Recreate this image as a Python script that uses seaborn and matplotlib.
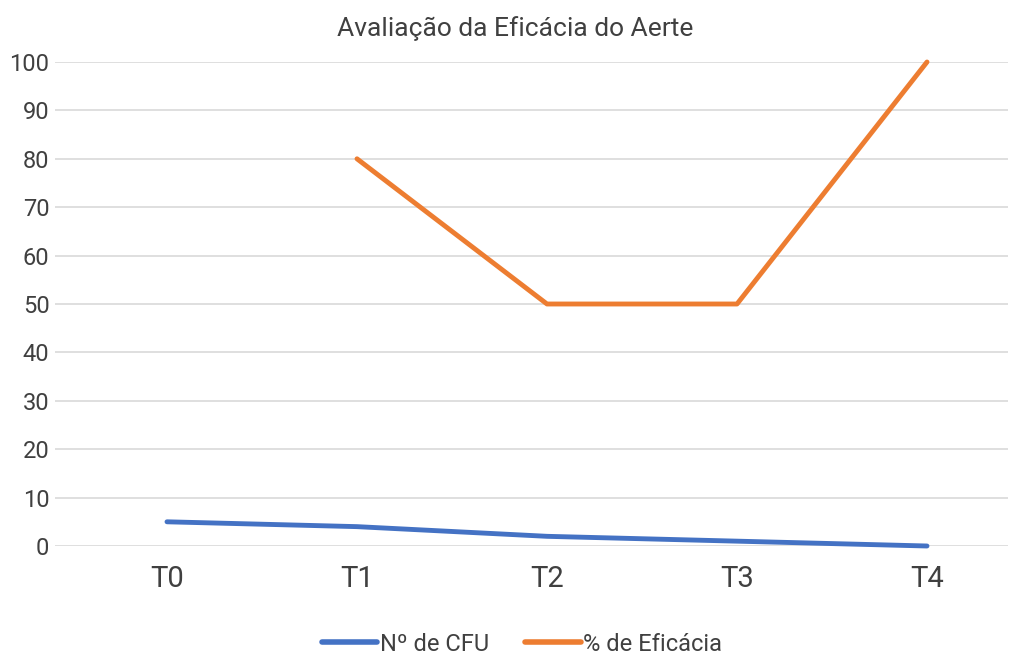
import numpy as np
import pandas as pd
import seaborn as sns
import matplotlib.pyplot as plt

categories = ["T0", "T1", "T2", "T3", "T4"]
cfu = [5, 4, 2, 1, 0]
eficacia = [np.nan, 80, 50, 50, 100]

df = pd.DataFrame({"Tempo": categories, "Nº de CFU": cfu, "% de Eficácia": eficacia})
long = df.melt(id_vars="Tempo", var_name="Serie", value_name="Valor")

sns.set_style("white")
plt.rcParams['font.family'] = ['Roboto', 'DejaVu Sans']

fig = plt.figure(figsize=(10.1, 6.55), dpi=100)
ax = fig.add_axes([55/1010, 1 - 546/655, (1008 - 55)/1010, (546 - 62)/655])

sns.lineplot(data=long, x="Tempo", y="Valor", hue="Serie",
             palette=["#4472C4", "#ED7D31"], linewidth=3.5, ax=ax,
             legend=True, sort=False)
for line in ax.lines:
    line.set_solid_capstyle("round")
    line.set_clip_on(False)

ax.set_xlim((55 - 167)/190, (1008 - 167)/190)
ax.set_ylim(0, 100)
ax.set_yticks(range(0, 101, 10))
ax.grid(axis="y", color="#D9D9D9", linewidth=1.2)
ax.set_axisbelow(True)
for s in ax.spines.values():
    s.set_visible(False)
ax.tick_params(axis="y", labelsize=17, labelcolor="#404040", length=0, pad=4)
ax.tick_params(axis="x", labelsize=21, labelcolor="#404040", length=0, pad=14)
ax.set_xlabel("")
ax.set_ylabel("")

fig.suptitle("Avaliação da Eficácia do Aerte", y=0.975, fontsize=19, color="#404040", x=515/1010)

leg = ax.legend(loc="upper center", bbox_to_anchor=(0.49, -0.135), ncol=2, frameon=False,
                fontsize=17, handlelength=2.35, handletextpad=0.1, columnspacing=1.55)
for t in leg.get_texts():
    t.set_color("#404040")
for h in leg.get_lines():
    h.set_linewidth(4)
    h.set_solid_capstyle("round")

fig.savefig("out.png", dpi=100)
